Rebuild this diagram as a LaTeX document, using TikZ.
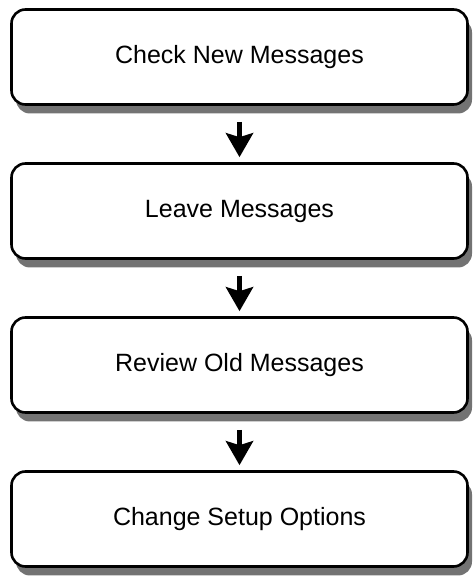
\documentclass[tikz,border=0pt]{standalone}
\usepackage{fontspec}
\setmainfont{Liberation Sans}
\usetikzlibrary{shadows,arrows.meta}
\tikzset{
  menubox/.style={draw=black, line width=2.6pt, rounded corners=14pt, fill=white,
    minimum width=456pt, minimum height=95pt, inner sep=0pt,
    font=\fontsize{25}{29}\selectfont,
    drop shadow={shadow xshift=4.5pt, shadow yshift=-9pt, fill=black!55, opacity=1}},
  flowarrow/.style={line width=5pt, -{Stealth[length=24pt, width=27pt, inset=4pt]}}
}
\begin{document}
\begin{tikzpicture}[x=1pt,y=1pt]
\useasboundingbox (0,0) rectangle (472,579);
\node[menubox] (b1) at (239.5,522) {Check New Messages};
\node[menubox] (b2) at (239.5,368) {Leave Messages};
\node[menubox] (b3) at (239.5,214) {Review Old Messages};
\node[menubox] (b4) at (239.5,60) {Change Setup Options};
\draw[flowarrow] ([yshift=-16pt]b1.south) -- ([yshift=5pt]b2.north);
\draw[flowarrow] ([yshift=-16pt]b2.south) -- ([yshift=5pt]b3.north);
\draw[flowarrow] ([yshift=-16pt]b3.south) -- ([yshift=5pt]b4.north);
\end{tikzpicture}
\end{document}
